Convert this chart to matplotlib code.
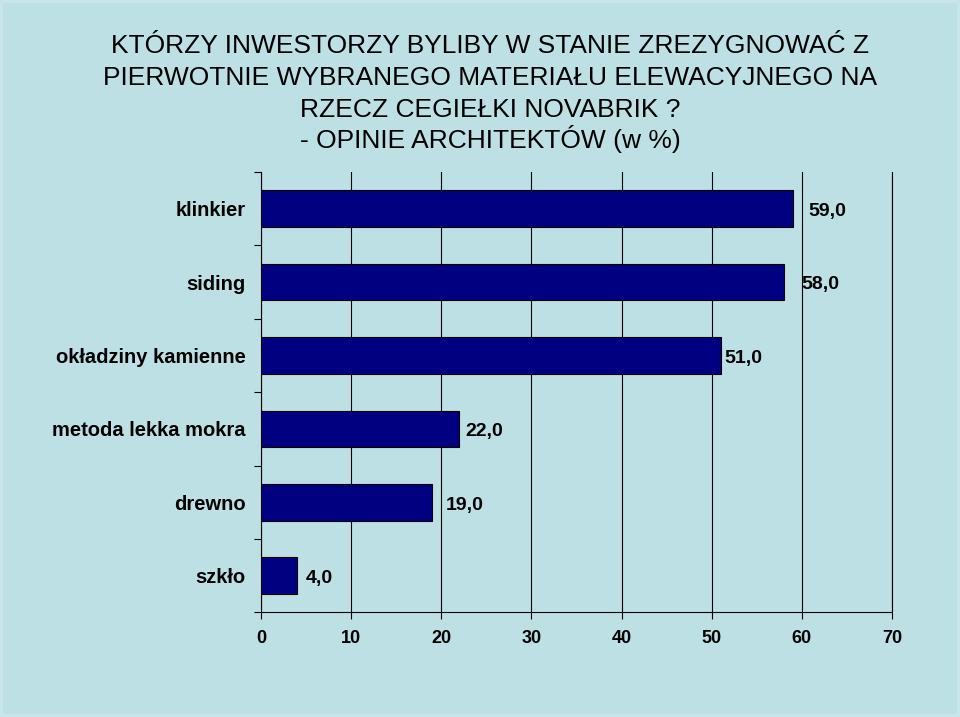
import matplotlib
matplotlib.use("Agg")
import matplotlib.pyplot as plt
import numpy as np

categories = ["klinkier", "siding", "okładziny kamienne", "metoda lekka mokra", "drewno", "szkło"]
values = [59.0, 58.0, 51.0, 22.0, 19.0, 4.0]
value_labels = ["59,0", "58,0", "51,0", "22,0", "19,0", "4,0"]
x_ticks = [0, 10, 20, 30, 40, 50, 60, 70]
title_lines = ["KTÓRZY INWESTORZY BYLIBY W STANIE ZREZYGNOWAĆ Z",
               "PIERWOTNIE WYBRANEGO MATERIAŁU ELEWACYJNEGO NA",
               "RZECZ CEGIEŁKI NOVABRIK ?",
               "- OPINIE ARCHITEKTÓW (w %)"]

# label offsets in points (excel placed them a bit unevenly)
label_offsets = [11, 13, 3, 4, 10, 6]

BG = "#bce0e4"
plt.rcParams["font.family"] = ["Liberation Sans", "DejaVu Sans"]

fig = plt.figure(figsize=(9.6, 7.17), dpi=100, facecolor=BG)
fig.patch.set_edgecolor("#c8e6e9")
fig.patch.set_linewidth(3)
ax = fig.add_axes([0.272, 0.146, 0.657, 0.614])
ax.set_facecolor(BG)

y = np.arange(len(categories))
ax.barh(y, values, height=0.5, color="#000080", edgecolor="black", linewidth=0.8, zorder=3)

for yi, v, lab, off in zip(y, values, value_labels, label_offsets):
    ax.annotate(lab, (v, yi), xytext=(off, -2), textcoords="offset points",
                ha="left", va="center", fontsize=14, fontweight="bold", zorder=4)

ax.set_xlim(0, 70)
ax.set_ylim(len(categories) - 0.5, -0.5)
ax.set_xticks(x_ticks)
ax.set_xticklabels([str(t) for t in x_ticks], fontsize=13, fontweight="bold")
ax.set_yticks(y)
ax.set_yticklabels(categories, fontsize=14.5, fontweight="bold")
ax.set_yticks(np.arange(-0.5, len(categories)), minor=True)
ax.tick_params(axis="y", which="major", length=0, pad=11)
ax.tick_params(axis="y", which="minor", length=5, width=0.8, direction="out")
ax.tick_params(axis="x", length=5, width=0.8, direction="out", pad=8)

ax.xaxis.grid(True, color="black", linewidth=0.8, zorder=1)
ax.spines["top"].set_visible(False)
for s in ["left", "bottom", "right"]:
    ax.spines[s].set_linewidth(0.8)

# title, one line at a time so the spacing stays even
baselines = [53, 85, 117, 148]
for line, yb in zip(title_lines, baselines):
    fig.text(0.511, 1 - yb / 717, line, ha="center", va="baseline", fontsize=19)

fig.savefig("out.png", dpi=100, facecolor=BG, edgecolor="#c8e6e9")
